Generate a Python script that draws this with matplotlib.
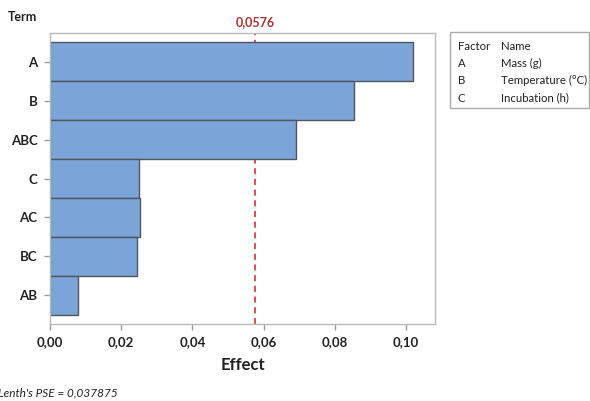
import matplotlib
matplotlib.use("Agg")
import matplotlib.pyplot as plt

terms = ["A", "B", "ABC", "C", "AC", "BC", "AB"]
effects = [0.1020, 0.0854, 0.0692, 0.0250, 0.0252, 0.0243, 0.0079]
ref_value = 0.0576
ref_label = "0,0576"
x_ticks = [0.00, 0.02, 0.04, 0.06, 0.08, 0.10]
x_ticklabels = ["0,00", "0,02", "0,04", "0,06", "0,08", "0,10"]
legend_factors = ["A", "B", "C"]
legend_names = ["Mass (g)", "Temperature (°C)", "Incubation (h)"]
pse_text = "Lenth's PSE = 0,037875"

plt.rcParams['font.family'] = ['Lato', 'DejaVu Sans']

W, H = 590, 401
fig = plt.figure(figsize=(W/100, H/100), dpi=100)
ax = fig.add_axes([50/W, 1-324/H, (435-50)/W, (324-33)/H])

ypos = list(range(len(terms)))
ax.axvline(ref_value, color="#D0202A", linestyle=(0, (4, 3)), linewidth=1.1, zorder=1)
ax.barh(ypos, effects, height=1.0, color="#7BA5D8", edgecolor="#505560", linewidth=1.0,
        zorder=2)

ax.set_xlim(0, 0.1081)
ax.set_ylim(6.74, -0.74)
ax.set_xticks(x_ticks)
ax.set_xticklabels(x_ticklabels)
ax.set_yticks(ypos)
ax.set_yticklabels(terms)
for s in ax.spines.values():
    s.set_color("#BBBBBB")
    s.set_linewidth(1.0)
ax.tick_params(axis='both', colors="#999999", labelcolor="#222222", length=4, width=1,
               labelsize=9.5)
ax.tick_params(axis='y', pad=5)
ax.tick_params(axis='x', pad=5)
for lab in ax.get_xticklabels() + ax.get_yticklabels():
    lab.set_fontweight('bold')

ax.set_xlabel("Effect", fontsize=12, fontweight='bold', color="#222222", labelpad=6)

fig.text(8/W, 1-17/H, "Term", fontsize=9, fontweight='bold', color="#222222",
         ha='left', va='center')
ax.text(ref_value, 1.0, ref_label, transform=ax.get_xaxis_transform(), color="#A83232",
        fontsize=9, fontweight='bold', ha='center', va='center')
ax.texts[-1].set_position((ref_value, 1 + 11/291))

fig.text(-2/W, 1-393/H, pse_text, fontsize=8.5, style='italic', color="#222222",
         ha='left', va='center')

# legend box
lx0, ly0, lx1, ly1 = 450, 32, 589, 108
box = plt.Rectangle((lx0/W, 1-ly1/H), (lx1-lx0)/W, (ly1-ly0)/H, transform=fig.transFigure,
                    facecolor='white', edgecolor="#AAAAAA", linewidth=1.0)
fig.patches.append(box)
rows = [("Factor", "Name")] + list(zip(legend_factors, legend_names))
for i, (f, n) in enumerate(rows):
    y = 1 - (46.5 + i*17.2)/H
    fig.text(458/W, y, f, fontsize=8.2, color="#222222", ha='left', va='center')
    fig.text(501/W, y, n, fontsize=8.2, color="#222222", ha='left', va='center')

fig.savefig("out.png", dpi=100)
